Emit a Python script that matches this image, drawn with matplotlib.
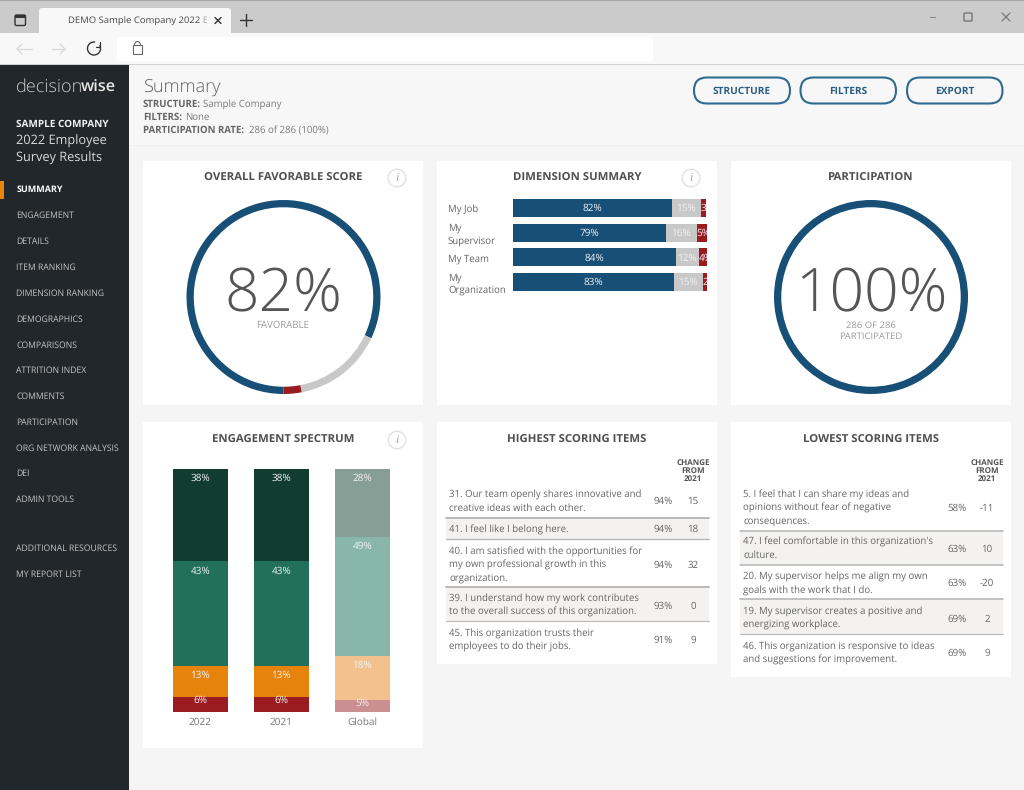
import matplotlib
matplotlib.use("Agg")
import matplotlib.pyplot as plt
from matplotlib.patches import Rectangle, FancyBboxPatch, Circle, Arc

W, H = 1024, 790
FONT = "Open Sans"
plt.rcParams["font.family"] = [FONT, "DejaVu Sans"]
plt.rcParams["text.hinting"] = "no_hinting"

NAVY, GREY, RED = "#174f77", "#c8c8c8", "#9b1c20"
TXT, TITLE = "#666666", "#505050"

# ---------- data ----------
nav_items = ["SUMMARY", "ENGAGEMENT", "DETAILS", "ITEM RANKING", "DIMENSION RANKING", "DEMOGRAPHICS",
             "COMPARISONS", "ATTRITION INDEX", "COMMENTS", "PARTICIPATION", "ORG NETWORK ANALYSIS",
             "DEI", "ADMIN TOOLS"]
nav_extra = ["ADDITIONAL RESOURCES", "MY REPORT LIST"]

overall_values = [82, 15, 3]
participation_values = [100]

dimensions = ["My Job", "My\nSupervisor", "My Team", "My\nOrganization"]
dim_favorable = [82, 79, 84, 83]
dim_neutral = [15, 16, 12, 15]
dim_unfavorable = [3, 5, 4, 2]

spectrum_groups = ["2022", "2021", "Global"]
spec_top = [38, 38, 28]
spec_upper = [43, 43, 49]
spec_lower = [13, 13, 18]
spec_bottom = [6, 6, 5]

high_items = [["31. Our team openly shares innovative and", "creative ideas with each other."],
              ["41. I feel like I belong here."],
              ["40. I am satisfied with the opportunities for", "my own professional growth in this", "organization."],
              ["39. I understand how my work contributes", "to the overall success of this organization."],
              ["45. This organization trusts their", "employees to do their jobs."]]
high_scores = ["94%", "94%", "94%", "93%", "91%"]
high_change = ["15", "18", "32", "0", "9"]

low_items = [["5. I feel that I can share my ideas and", "opinions without fear of negative", "consequences."],
             ["47. I feel comfortable in this organization's", "culture."],
             ["20. My supervisor helps me align my own", "goals with the work that I do."],
             ["19. My supervisor creates a positive and", "energizing workplace."],
             ["46. This organization is responsive to ideas", "and suggestions for improvement."]]
low_scores = ["58%", "63%", "63%", "69%", "69%"]
low_change = ["-11", "10", "-20", "2", "9"]

# ---------- canvas ----------
def pt(px):
    return px * 0.72

fig = plt.figure(figsize=(W / 100, H / 100), dpi=100, facecolor="#f5f5f5")
bg = fig.add_axes([0, 0, 1, 1])
bg.set_xlim(0, W); bg.set_ylim(H, 0); bg.axis("off")

def rect(x0, y0, x1, y1, c, z=1, **k):
    bg.add_patch(Rectangle((x0, y0), x1 - x0, y1 - y0, fc=c, ec="none", zorder=z, **k))

def text(x, y, s, px=10, c=TXT, ha="left", va="center", w="normal", **k):
    return bg.text(x, y + 1, s, fontsize=pt(px), color=c, ha=ha, va=va, fontweight=w, zorder=6, **k)

def line(xs, ys, c="#666666", lw=1.0, z=5):
    bg.plot(xs, ys, color=c, lw=lw, zorder=z, solid_capstyle="round")

# browser chrome
rect(0, 0, W, 33, "#cbcbcb")
rect(0, 0, W, 1, "#a5a5a5", 2)
rect(0, 33, W, 64, "#f8f8f8")
rect(0, 63.5, W, 65, "#d2d2d2", 2)
bg.add_patch(FancyBboxPatch((39, 8), 192, 30, boxstyle="round,pad=0,rounding_size=3", fc="#f8f8f8", ec="none", zorder=2))
rect(39, 33, 231, 38, "#f8f8f8", 2)
bg.add_patch(FancyBboxPatch((117, 37), 536, 24, boxstyle="round,pad=0,rounding_size=3", fc="#ffffff", ec="none", zorder=2))
text(68, 20, "DEMO Sample Company 2022 En", 9.5, "#444444")
rect(207, 10, 214, 32, "#f8f8f8", 6.5)
rect(200, 10, 207, 32, "#f8f8f8", 6.5, alpha=0.55)
line([215, 221], [17.5, 23.5], "#333333", 1.0, 7); line([215, 221], [23.5, 17.5], "#333333", 1.0, 7)
line([240, 252], [20, 20], "#333333", 1.0); line([246, 246], [14, 26], "#333333", 1.0)
bg.add_patch(FancyBboxPatch((15, 15), 10.5, 10.5, boxstyle="round,pad=0,rounding_size=1.5", fc="none", ec="#333333", lw=1.0, zorder=5))
rect(15, 15, 25.5, 18, "#333333", 5)
line([17, 32], [49, 49], "#d8d8d8", 0.9); line([17, 22], [49, 44], "#d8d8d8", 0.9); line([17, 22], [49, 54], "#d8d8d8", 0.9)
line([52, 65], [49, 49], "#d8d8d8", 0.9); line([65, 60], [49, 44], "#d8d8d8", 0.9); line([65, 60], [49, 54], "#d8d8d8", 0.9)
bg.add_patch(Arc((94, 48.5), 13, 13, theta1=-30, theta2=280, ec="#333333", lw=1.0, zorder=5))
line([100, 100, 96], [42, 47, 47], "#333333", 0.9)
bg.add_patch(Rectangle((133, 45), 9, 9, fc="none", ec="#666666", lw=0.8, zorder=5))
bg.add_patch(Arc((137.5, 45), 6, 7, theta1=180, theta2=360, ec="#666666", lw=0.8, zorder=5))
rect(929.5, 16.5, 936, 17.5, "#8a8a8a", 5)
bg.add_patch(FancyBboxPatch((964, 13), 8, 8, boxstyle="round,pad=0,rounding_size=1", fc="none", ec="#777777", lw=1, zorder=5))
line([1002, 1010], [13, 21], "#777777", 0.9); line([1002, 1010], [21, 13], "#777777", 0.9)

# header band
rect(129, 65, W, 145, "#f7f7f7")
rect(129, 145, W, 146, "#f0f0f0", 2)

# sidebar
rect(0, 65, 129, H, "#22272b", 3)
rect(0, 181, 4, 199, "#e8830c", 4)
text(16, 86, "decision", 18.2, "#c9c9c9", w="light")
text(80.5, 86.5, "wise", 16.2, "#e6e6e6", w="semibold")
text(16.5, 123.5, "SAMPLE COMPANY", 10, "#f0f0f0", w="bold")
text(16.5, 140, "2022 Employee", 12.8, "#d8d8d8")
text(16.5, 157.5, "Survey Results", 12.8, "#d8d8d8")
nav_y = [189, 215, 241, 267, 292.5, 318.5, 344.5, 370, 396, 421.5, 447.5, 473, 499]
for name, y in zip(nav_items, nav_y):
    if name == "SUMMARY":
        text(16.5, y, name, 9, "#ffffff", w="bold")
    else:
        text(16.5, y, name, 8.6, "#c4c4c4")
for name, y in zip(nav_extra, [548, 574]):
    text(16.5, y, name, 8.6, "#c4c4c4")

# page header
text(143, 85.5, "Summary", 18.2, "#5f5f5f", w="light")
for y, a, b, dx in [(103.5, "STRUCTURE:", "Sample Company", 60), (116.5, "FILTERS:", "None", 42),
                    (129.5, "PARTICIPATION RATE:", "286 of 286 (100%)", 106)]:
    text(143, y, a, 9.7, "#666666", w="bold")
    text(143 + dx, y, b, 9.7, "#7a7a7a")
for x0, x1, s in [(694, 790, "STRUCTURE"), (800.5, 896, "FILTERS"), (907, 1002.5, "EXPORT")]:
    bg.add_patch(FancyBboxPatch((x0, 77.5), x1 - x0, 26, boxstyle="round,pad=0,rounding_size=13",
                                fc="#f7f7f7", ec="#2f6a90", lw=1.5, zorder=3))
    text((x0 + x1) / 2, 90, s, 10.1, "#2a5f85", ha="center", w="bold")

# cards
cards = [(143, 161, 423, 405), (437, 161, 717, 405), (731, 161, 1011, 405),
         (143, 422, 423, 748), (437, 422, 717, 664), (731, 422, 1011, 677)]
for c in cards:
    rect(c[0], c[1], c[2], c[3], "#ffffff", 2)
for x, y, s in [(283, 177.5, "OVERALL FAVORABLE SCORE"), (577, 177.5, "DIMENSION SUMMARY"), (871, 177.5, "PARTICIPATION"),
                (283, 439.5, "ENGAGEMENT SPECTRUM"), (577, 439.5, "HIGHEST SCORING ITEMS"), (871, 439.5, "LOWEST SCORING ITEMS")]:
    text(x, y, s, 11.4, TITLE, ha="center", w="bold")
for x, y in [(397, 178), (691, 178), (397, 440)]:
    bg.add_patch(Circle((x, y), 8.8, fc="#ffffff", ec="#e2e2e2", lw=1, zorder=3))
    text(x, y - 1, "i", 12, "#a8a8a8", ha="center", style="italic", family="Liberation Serif")

def pix_axes(x0, y0, x1, y1):
    a = fig.add_axes([x0 / W, 1 - y1 / H, (x1 - x0) / W, (y1 - y0) / H])
    a.patch.set_alpha(0)
    return a

# gauges
for cx, vals, cols in [(283.5, overall_values, [NAVY, GREY, RED]), (871, participation_values, [NAVY])]:
    a = pix_axes(cx - 97, 200, cx + 97, 394)
    a.pie(vals, colors=cols, startangle=270, counterclock=False, radius=1,
          wedgeprops=dict(width=0.075, linewidth=0))
    a.set_xlim(-1, 1); a.set_ylim(-1, 1); a.axis("off")
text(283, 295, f"{overall_values[0]}%", 60.5, "#555555", ha="center", w="light")
text(283, 324, "FAVORABLE", 9.7, "#9a9a9a", ha="center")
text(871, 295, f"{participation_values[0]}%", 60.5, "#555555", ha="center", w="light")
text(871, 324.5, "286 OF 286", 9.5, "#9a9a9a", ha="center")
text(871, 336, "PARTICIPATED", 9.5, "#9a9a9a", ha="center")

# dimension summary
a = pix_axes(513, 199, 706.5, 291)
ypos = list(range(len(dimensions)))
bar_h = 0.73
left = [0] * len(dimensions)
for i, (vals, col) in enumerate([(dim_favorable, NAVY), (dim_neutral, GREY), (dim_unfavorable, RED)]):
    bars = a.barh(ypos, vals, left=left, height=bar_h, color=col, linewidth=0)
    for b, v in zip(bars, vals):
        xc = b.get_x() if i == 2 else b.get_x() + b.get_width() / 2
        a.text(xc, b.get_y() + b.get_height() / 2 + 0.03, f"{v}%", color="#f2f2f2", fontsize=pt(10),
               ha="left" if i == 2 else "center", va="center", clip_on=True)
    left = [l + v for l, v in zip(left, vals)]
a.set_xlim(0, 100); a.set_ylim(3 + bar_h / 2, -bar_h / 2); a.axis("off")
for lab, y in zip(dimensions, [209.7, 234.5, 259.2, 284]):
    bg.text(448, y, lab, fontsize=pt(9.7), color=TXT, ha="left", va="center", linespacing=1.33, zorder=6)

# engagement spectrum
a = pix_axes(173, 469, 389.5, 712)
bw = 54.5 / 81
stack_cols = [(spec_bottom, ["#9b1c20", "#9b1c20", "#cb8f92"]),
              (spec_lower, ["#e6830d", "#e6830d", "#f2c18e"]),
              (spec_upper, ["#22705a", "#22705a", "#88b7aa"]),
              (spec_top, ["#103d30", "#103d30", "#879e97"])]
base = [0, 0, 0]
for vals, cols in stack_cols:
    bars = a.bar(range(3), vals, width=bw, bottom=base, color=cols, linewidth=0)
    for b, v in zip(bars, vals):
        off = 3 if v <= 6 else 9.5
        a.annotate(f"{v}%", (b.get_x() + b.get_width() / 2, b.get_y() + b.get_height()), xytext=(0, -pt(off)),
                   textcoords="offset points", ha="center", va="center", color="#f2f2f2", fontsize=pt(10))
    base = [p + v for p, v in zip(base, vals)]
a.set_xlim(-bw / 2, 2 + bw / 2); a.set_ylim(0, 100)
a.set_xticks(range(3), spectrum_groups, color="#777777", fontsize=pt(10))
a.set_yticks([])
a.tick_params(axis="x", length=0, pad=pt(5))
for s in a.spines.values():
    s.set_visible(False)

# item tables
def table(x0, x1, tx, sx, cx, items, scores, changes, line_ys, seps, score_ys, seplw):
    text(cx, 462, "CHANGE", 8, "#555555", ha="center", w="bold")
    text(cx, 470, "FROM", 8, "#555555", ha="center", w="bold")
    text(cx, 478, "2021", 8, "#555555", ha="center", w="bold")
    rect(x0, seps[0], x1, seps[1], "#f3f2f1", 3)
    rect(x0, seps[2], x1, seps[3], "#f3f2f1", 3)
    for y, lw in zip(seps, seplw):
        line([x0, x1], [y, y], "#b9b9b9", lw, 4)
    for it, ys, sc, ch, sy in zip(items, line_ys, scores, changes, score_ys):
        for s, y in zip(it, ys):
            text(tx, y, s, 9.6, TXT)
        text(sx, sy, sc, 9.8, TXT, ha="center")
        text(cx, sy, ch, 9.8, TXT, ha="center")

table(445.5, 709, 449, 663, 693, high_items, high_scores, high_change,
      [[494, 507], [528.5], [551, 564, 577], [598, 611], [633, 646]],
      [517.5, 539, 587, 621], [500.5, 528.5, 564, 605, 639], [1.4, 1.0, 1.4, 0.8])
table(739.5, 1003, 743, 957, 987, low_items, low_scores, low_change,
      [[494, 507, 520], [541, 554], [576.5, 589.5], [611, 624], [645.5, 658.5]],
      [530.5, 565, 599, 634], [507, 548, 582.5, 618, 652], [1.2, 1.2, 1.2, 0.8])

fig.savefig("out.png", dpi=100, facecolor=fig.get_facecolor())
